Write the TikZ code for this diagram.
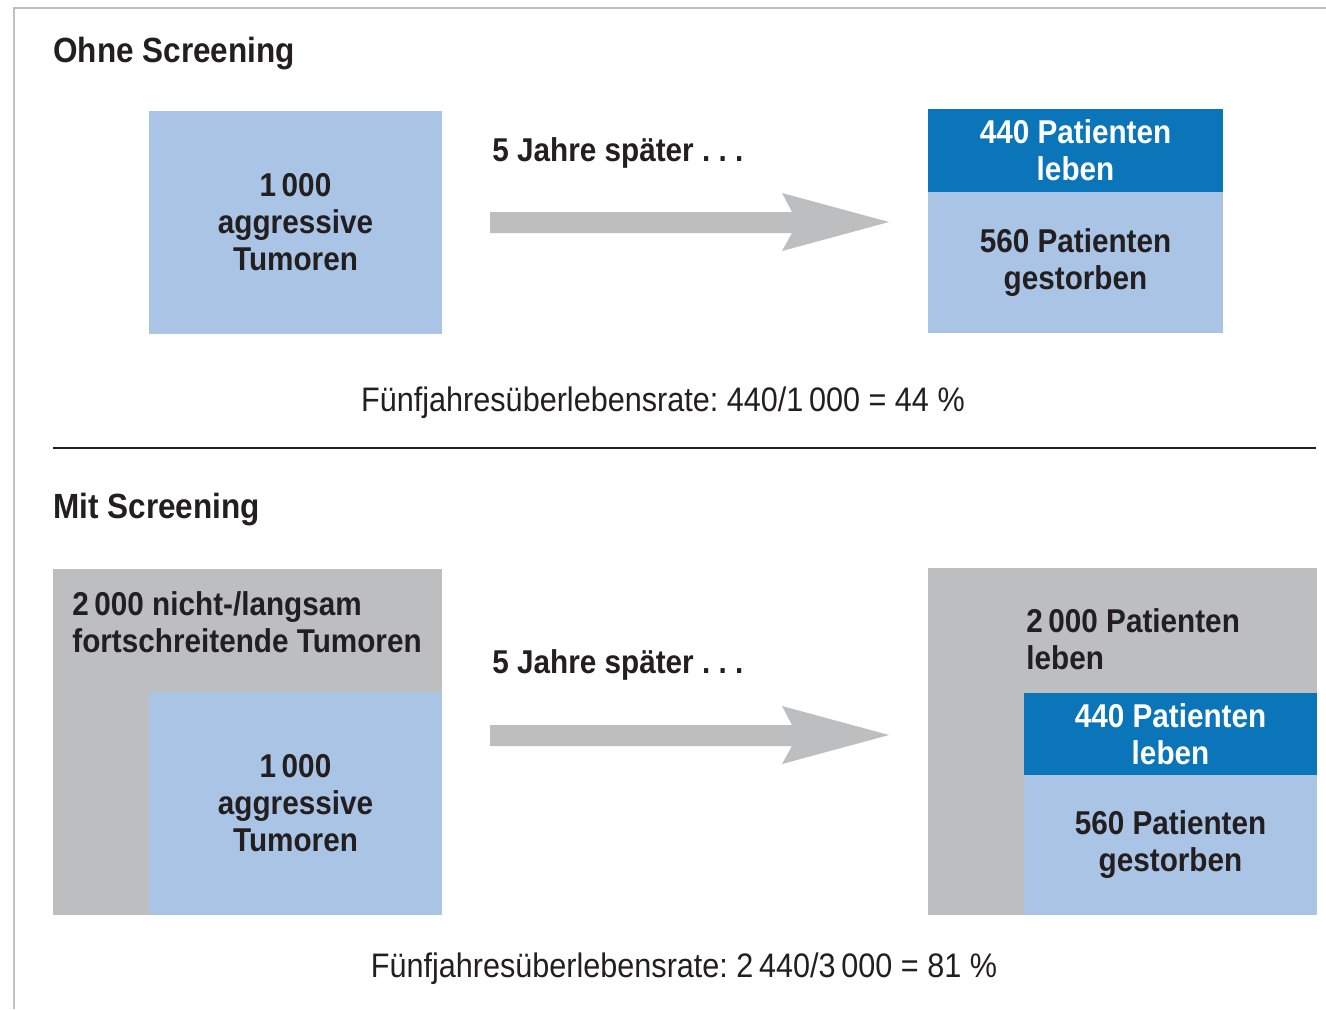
\documentclass[tikz,border=0pt]{standalone}
\usepackage{fontspec}
\setmainfont{Liberation Sans}[FakeStretch=0.9]
\definecolor{lblue}{HTML}{A9C4E4}
\definecolor{dblue}{HTML}{0B75B9}
\definecolor{lgray}{HTML}{BCBEC0}
\definecolor{txt}{HTML}{231F20}
\usetikzlibrary{calc}
\tikzset{
  box/.style={draw=none, inner sep=0pt, align=center, text=txt, font=\frenchspacing\bfseries\fontsize{16.5}{18.5}\selectfont},
  lbox/.style={box, fill=lblue},
  dbox/.style={box, fill=dblue, text=white},
  gbox/.style={box, fill=lgray},
  head/.style={inner sep=0pt, anchor=west, text=txt, font=\bfseries\fontsize{17.5}{20}\selectfont},
  lbl/.style={inner sep=0pt, text=txt, font=\frenchspacing\bfseries\fontsize{16.5}{18.5}\selectfont},
  formula/.style={inner sep=0pt, text=txt, font=\frenchspacing\fontsize{17}{19}\selectfont},
  bigarrow/.style={fill=lgray, draw=none},
}
\newcommand{\bigarr}[1]{%
  \fill[bigarrow] ($(#1)+(0,-10)$) -- ($(#1)+(302,-10)$) -- ($(#1)+(292,-29)$) -- ($(#1)+(399,0)$)
     -- ($(#1)+(292,29)$) -- ($(#1)+(302,11)$) -- ($(#1)+(0,11)$) -- cycle;}
\begin{document}
\begin{tikzpicture}[x=0.5pt,y=-0.5pt]
\useasboundingbox (0,0) rectangle (1326,1009);
\fill[white] (0,0) rectangle (1326,1009);
% frame shadow
\draw[black!25, line width=0.8pt] (14,1009) -- (14,8) -- (1326,8);

% --- Ohne Screening
\node[head] (h1) at (53,54) {Ohne Screening};
\node[lbox, minimum width=146.5pt, minimum height=111.5pt] (a1) at (295.5,222.5) {1\,000\\aggressive\\Tumoren};
\node[lbl, anchor=west] (j1) at (492,153) {5 Jahre später . . .};
\coordinate (ar1) at (490,222);
\bigarr{ar1}
\node[dbox, minimum width=147.5pt, minimum height=41.5pt] (l1) at (1075.5,150.5) {440 Patienten\\leben};
\node[lbox, minimum width=147.5pt, minimum height=70.5pt] (g1) at (1075.5,262.5) {560 Patienten\\gestorben};
\node[formula] (f1) at (663,403) {Fünfjahresüberlebensrate: 440/1\,000 = 44 \%};

\draw[txt, line width=1.4pt] (53,448) -- (1316,448);

% --- Mit Screening
\node[head] (h2) at (53,510) {Mit Screening};
\node[gbox, minimum width=194.5pt, minimum height=173pt] (s2) at (247.5,742) {};
\node[lbl, anchor=west, align=left] (s2t) at (72,622) {2\,000 nicht-/langsam\\fortschreitende Tumoren};
\node[lbox, minimum width=146.5pt, minimum height=111.5pt] (a2) at (295.5,803.5) {1\,000\\aggressive\\Tumoren};
\node[lbl, anchor=west] (j2) at (492,665) {5 Jahre später . . .};
\coordinate (ar2) at (490,735);
\bigarr{ar2}
\node[gbox, minimum width=194.5pt, minimum height=173.5pt] (p2) at (1122.5,741.5) {};
\node[lbl, anchor=west, align=left] (p2t) at (1026,639.5) {2\,000 Patienten\\leben};
\node[dbox, minimum width=146.5pt, minimum height=41pt] (l2) at (1170.5,734) {440 Patienten\\leben};
\node[lbox, minimum width=146.5pt, minimum height=70pt] (g2) at (1170.5,845) {560 Patienten\\gestorben};
\node[formula] (f2) at (684,969) {Fünfjahresüberlebensrate: 2\,440/3\,000 = 81 \%};
\end{tikzpicture}
\end{document}
